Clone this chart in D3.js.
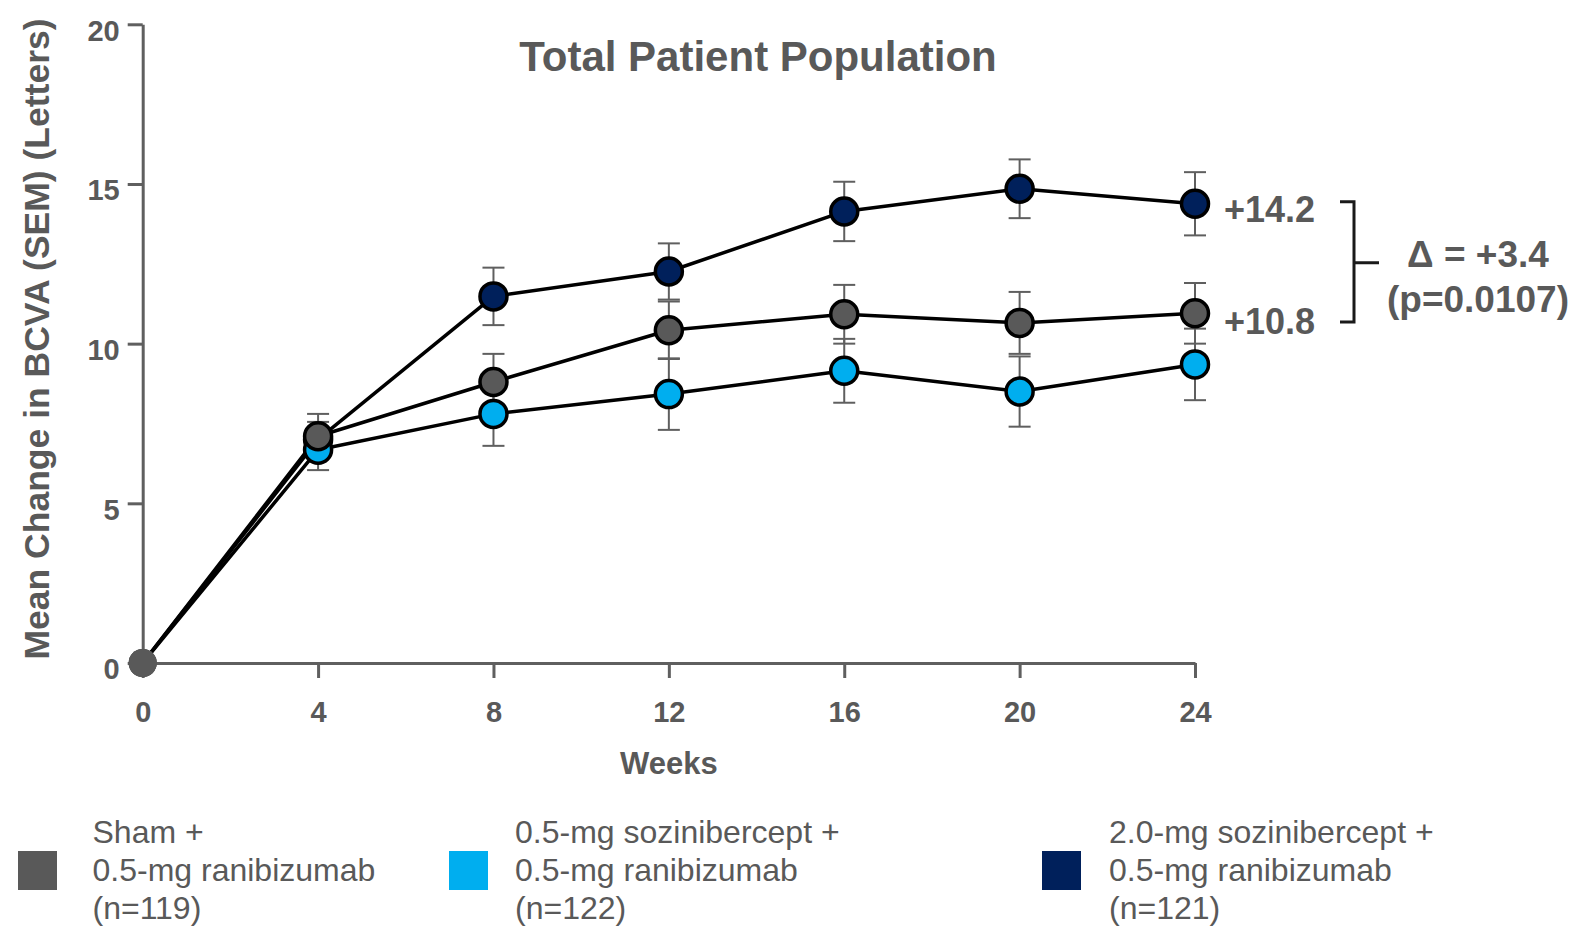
<!DOCTYPE html>
<html>
<head>
<meta charset="utf-8">
<script src="https://cdn.jsdelivr.net/npm/d3@7"></script>
<style>
  html, body { margin: 0; padding: 0; background: #ffffff; }
  svg { display: block; font-family: "Liberation Sans", Arial, sans-serif; }
  svg text { font-family: "Liberation Sans", Arial, sans-serif; }
</style>
</head>
<body>
<svg id="chart" width="1575" height="927"></svg>
<script>
// ---------- data ----------
const weeks = [0, 4, 8, 12, 16, 20, 24];
const xTicks = [0, 4, 8, 12, 16, 20, 24];
const yTicks = [0, 5, 10, 15, 20];

const seriesNames = ["Sham +\n0.5-mg ranibizumab\n(n=119)",
                     "0.5-mg sozinibercept +\n0.5-mg ranibizumab\n(n=122)",
                     "2.0-mg sozinibercept +\n0.5-mg ranibizumab\n(n=121)"];
const seriesColors = ["#595959", "#00AEEF", "#00205B"];

const shamMean  = [0, 7.1, 8.8, 10.42, 10.92, 10.65, 10.95];
const shamSem   = [0, 0.70, 0.88, 0.90, 0.92, 0.97, 0.95];
const soz05Mean = [0, 6.68, 7.8, 8.42, 9.15, 8.5, 9.35];
const soz05Sem  = [0, 0.64, 1.0, 1.12, 1.0, 1.1, 1.12];
const soz20Mean = [0, 7.0, 11.48, 12.26, 14.14, 14.85, 14.38];
const soz20Sem  = [0, 0.55, 0.9, 0.88, 0.93, 0.92, 0.99];

const title = "Total Patient Population";
const xTitle = "Weeks";
const yTitle = "Mean Change in BCVA (SEM) (Letters)";
const endLabels = ["+14.2", "+10.8"];
const endLabelValues = [14.38, 10.95];
const deltaLines = ["\u0394 = +3.4", "(p=0.0107)"];

// ---------- build ----------
const series = [
  { name: seriesNames[0], color: seriesColors[0], mean: shamMean, sem: shamSem },
  { name: seriesNames[1], color: seriesColors[1], mean: soz05Mean, sem: soz05Sem },
  { name: seriesNames[2], color: seriesColors[2], mean: soz20Mean, sem: soz20Sem }
];
// drawing order: navy, cyan, sham on top
const drawOrder = [series[2], series[1], series[0]];

const svg = d3.select("#chart");
const textGray = "#595959";
const axisGray = "#5f5f5f";
const FONT = '"Liberation Sans", Arial, sans-serif';

const x = d3.scaleLinear().domain([0, 24]).range([142.7, 1195]);
const y = d3.scaleLinear().domain([0, 20]).range([663, 24.3]);

// axes
const yAxis = svg.append("g").attr("transform", `translate(${x(0)},0)`)
  .call(d3.axisLeft(y).tickValues(yTicks).tickSize(15).tickPadding(8).tickSizeOuter(0));
yAxis.attr("font-family", FONT).attr("font-size", 29);
yAxis.select(".domain").attr("stroke", axisGray).attr("stroke-width", 3);
yAxis.selectAll(".tick line").attr("stroke", axisGray).attr("stroke-width", 3);
yAxis.selectAll(".tick text")
  .attr("fill", textGray).style("font-size", "29px").style("font-weight", "bold")
  .attr("dy", "0.55em");

const xAxis = svg.append("g").attr("transform", `translate(0,${y(0)})`)
  .call(d3.axisBottom(x).tickValues(xTicks).tickSize(15).tickPadding(23).tickSizeOuter(0));
xAxis.attr("font-family", FONT).attr("font-size", 29);
xAxis.select(".domain").attr("stroke", axisGray).attr("stroke-width", 3);
xAxis.selectAll(".tick line").attr("stroke", axisGray).attr("stroke-width", 3);
xAxis.selectAll(".tick text")
  .attr("fill", textGray).style("font-size", "29px").style("font-weight", "bold");

// titles
svg.append("text").attr("x", 758).attr("y", 71).attr("text-anchor", "middle")
  .attr("fill", textGray).attr("font-size", 42).attr("font-weight", "bold").text(title);
svg.append("text").attr("x", x(12)).attr("y", 774).attr("text-anchor", "middle")
  .attr("fill", textGray).attr("font-size", 31).attr("font-weight", "bold").text(xTitle);
svg.append("text").attr("transform", "translate(49,339) rotate(-90)").attr("text-anchor", "middle")
  .attr("fill", textGray).attr("font-size", 35.5).attr("font-weight", "bold").text(yTitle);

// error bars
const capW = 11;
const eb = svg.append("g");
drawOrder.forEach(s => {
  weeks.forEach((w, i) => {
    if (s.sem[i] <= 0) return;
    const cx = x(w), y1 = y(s.mean[i] + s.sem[i]), y2 = y(s.mean[i] - s.sem[i]);
    eb.append("line").attr("x1", cx).attr("x2", cx).attr("y1", y1).attr("y2", y2)
      .attr("stroke", axisGray).attr("stroke-width", 2);
    [y1, y2].forEach(yy => eb.append("line").attr("x1", cx - capW).attr("x2", cx + capW)
      .attr("y1", yy).attr("y2", yy).attr("stroke", axisGray).attr("stroke-width", 2));
  });
});

// lines
const line = d3.line().x((d, i) => x(weeks[i])).y(d => y(d));
drawOrder.forEach(s => {
  svg.append("path").datum(s.mean).attr("d", line)
    .attr("fill", "none").attr("stroke", "#000").attr("stroke-width", 3.5)
    .attr("stroke-linejoin", "round");
});

// markers
drawOrder.forEach(s => {
  svg.append("g").selectAll("circle").data(s.mean).join("circle")
    .attr("cx", (d, i) => x(weeks[i])).attr("cy", d => y(d))
    .attr("r", (d, i) => weeks[i] === 0 ? 14 : 13.5)
    .attr("fill", (d, i) => weeks[i] === 0 ? seriesColors[0] : s.color)
    .attr("stroke", (d, i) => weeks[i] === 0 ? "none" : "#000")
    .attr("stroke-width", 3.5);
});

// end labels
endLabels.forEach((t, i) => {
  svg.append("text").attr("x", x(24) + 29).attr("y", y(endLabelValues[i]) + (i === 0 ? 18 : 21))
    .attr("fill", textGray).attr("font-size", 36).attr("font-weight", "bold").text(t);
});

// bracket
const bx = 1354, bTop = 201.7, bBot = 322;
svg.append("path")
  .attr("d", `M${bx - 14},${bTop} H${bx} V${bBot} H${bx - 14} M${bx},${(bTop + bBot) / 2 + 1} H${bx + 25}`)
  .attr("fill", "none").attr("stroke", "#1a1a1a").attr("stroke-width", 3);

svg.append("text").attr("x", 1478).attr("y", 267).attr("text-anchor", "middle")
  .attr("fill", textGray).attr("font-size", 37).attr("font-weight", "bold").text(deltaLines[0]);
svg.append("text").attr("x", 1478).attr("y", 312).attr("text-anchor", "middle")
  .attr("fill", textGray).attr("font-size", 37).attr("font-weight", "bold").text(deltaLines[1]);

// legend
const legendX = [18, 449, 1042];
const legendTextX = [92.5, 515, 1109];
series.forEach((s, i) => {
  svg.append("rect").attr("x", legendX[i]).attr("y", 851).attr("width", 39).attr("height", 39).attr("fill", s.color);
  const lines = s.name.split("\n");
  lines.forEach((l, j) => {
    svg.append("text").attr("x", legendTextX[i]).attr("y", 843 + j * 38)
      .attr("fill", textGray).attr("font-size", 32).text(l);
  });
});
</script>
</body>
</html>
